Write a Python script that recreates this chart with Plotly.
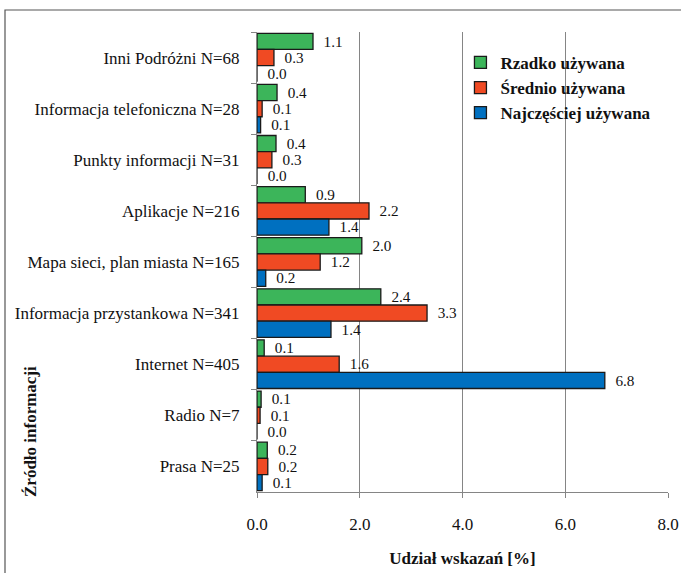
import plotly.graph_objects as go

categories = [
    "Inni Podróżni N=68",
    "Informacja telefoniczna N=28",
    "Punkty informacji N=31",
    "Aplikacje N=216",
    "Mapa sieci, plan miasta N=165",
    "Informacja przystankowa N=341",
    "Internet N=405",
    "Radio N=7",
    "Prasa N=25",
]
rzadko = [1.09, 0.39, 0.37, 0.94, 2.04, 2.41, 0.14, 0.08, 0.20]
srednio = [0.33, 0.10, 0.29, 2.18, 1.23, 3.31, 1.60, 0.06, 0.21]
najczesciej = [0.0, 0.07, 0.0, 1.40, 0.17, 1.44, 6.77, 0.0, 0.10]
series_names = ["Rzadko używana", "Średnio używana", "Najczęściej używana"]
x_ticks = [0, 2, 4, 6, 8]
x_ticklabels = ["0.0", "2.0", "4.0", "6.0", "8.0"]

colors = ["#3CB55A", "#F04A23", "#0070C0"]
FONT = "Liberation Serif"

fig = go.Figure()
for name, vals, col in zip(series_names, [rzadko, srednio, najczesciej], colors):
    fig.add_trace(go.Bar(
        y=categories, x=vals, name=name, orientation="h",
        marker=dict(color=col, line=dict(color="#1a1a1a", width=1.3)),
        texttemplate="\u00a0\u00a0%{x:.1f}", textposition="outside",
        textfont=dict(family=FONT, size=16, color="#111"),
        cliponaxis=False,
    ))

fig.update_layout(
    width=681, height=573,
    margin=dict(l=257, r=13, t=32, b=81, autoexpand=False),
    paper_bgcolor="white", plot_bgcolor="white",
    barmode="group", bargap=0.05, bargroupgap=0,
    font=dict(family=FONT, size=17, color="#111"),
    showlegend=True,
    legend=dict(
        x=0.495, y=0.972, xanchor="left", yanchor="top",
        bgcolor="rgba(0,0,0,0)",
        font=dict(family=FONT, size=17, color="#111", weight="bold"),
        tracegroupgap=0,
    ),
    xaxis=dict(
        range=[0, 8], tickvals=x_ticks, ticktext=x_ticklabels,
        showgrid=True, gridcolor="#858585", gridwidth=1,
        showline=True, linecolor="#858585", linewidth=1,
        ticks="outside", ticklen=5, tickcolor="#858585",
        ticklabelstandoff=12, automargin=False,
        tickfont=dict(family=FONT, size=17, color="#111"),
        zeroline=False,
        title=dict(text="<b>Udział wskazań [%]</b>", font=dict(family=FONT, size=17, color="#111"), standoff=18),
    ),
    yaxis=dict(
        autorange="reversed", type="category", automargin=False,
        showline=True, linecolor="#858585", linewidth=1,
        ticks="outside", ticklen=5, tickcolor="#858585", tickson="boundaries",
        ticklabelstandoff=13,
        tickfont=dict(family=FONT, size=17, color="#111"),
        showgrid=False,
    ),
    shapes=[dict(type="rect", xref="paper", yref="paper",
                 x0=(5 - 257) / 411, x1=1.2, y0=-0.3, y1=(492 - 10) / 460,
                 line=dict(color="#555", width=1.2), fillcolor="rgba(0,0,0,0)", layer="below")],
    annotations=[dict(text="<b>Źródło informacji</b>", textangle=-90,
                      xref="paper", yref="paper", x=(30 - 257) / 411, y=(492 - 432) / 460,
                      xanchor="center", yanchor="middle", showarrow=False,
                      font=dict(family=FONT, size=17, color="#111"))],
)

fig.write_html("out.html", config={"displayModeBar": False},
               post_script="document.body.style.margin='0';")
